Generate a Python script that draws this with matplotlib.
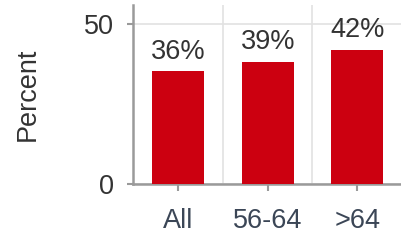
import numpy as np
import matplotlib
matplotlib.use("Agg")
import matplotlib.pyplot as plt

# --- data ---
categories = ["All", "56-64", ">64"]
values = [35.2, 38.3, 41.8]
labels = ["36%", "39%", "42%"]

BAR = "#cc0010"
SPINE = "#9a9a9a"
GRID = "#e2e2e2"
TEXT = "#333333"
XTXT = "#3b4656"
FS = 19.5

plt.rcParams["font.family"] = ["Liberation Sans", "DejaVu Sans"]

fig = plt.figure(figsize=(4.02, 2.41), dpi=100)
ax = fig.add_axes([0.332, 0.2365, 0.668, 0.743])

x = np.arange(len(categories))
bars = ax.bar(x, values, width=0.58, color=BAR, zorder=3)
for bar, lab in zip(bars, labels):
    ax.annotate(lab, (bar.get_x() + bar.get_width() / 2, bar.get_height()),
                xytext=(0, 5), textcoords="offset points",
                ha="center", va="bottom", fontsize=FS, color=TEXT)

ax.set_xlim(-0.5, 2.5)
ax.set_ylim(0, 56)
ax.set_yticks([0, 50])
ax.set_xticks(x)
ax.set_xticklabels(categories)
ax.set_xticks([0.5, 1.5], minor=True)

ax.grid(False)
ax.xaxis.grid(True, which="minor", color=GRID, linewidth=1.2)
ax.yaxis.grid(True, which="major", color=GRID, linewidth=1.2)
ax.set_axisbelow(True)
ax.tick_params(axis="x", which="minor", length=0)
ax.tick_params(axis="x", which="major", length=5, width=1.5, color=SPINE,
               labelsize=FS, labelcolor=XTXT, pad=12)
ax.tick_params(axis="y", length=4, width=1.5, color=SPINE,
               labelsize=FS, labelcolor=TEXT, pad=10)

for side in ["top", "right"]:
    ax.spines[side].set_visible(False)
for side in ["left", "bottom"]:
    ax.spines[side].set_color(SPINE)
    ax.spines[side].set_linewidth(1.8)

ax.set_ylabel("Percent", fontsize=FS, color=TEXT, va="center")
ax.yaxis.set_label_coords(-0.393, 0.5)

fig.savefig("out.png", dpi=100)
